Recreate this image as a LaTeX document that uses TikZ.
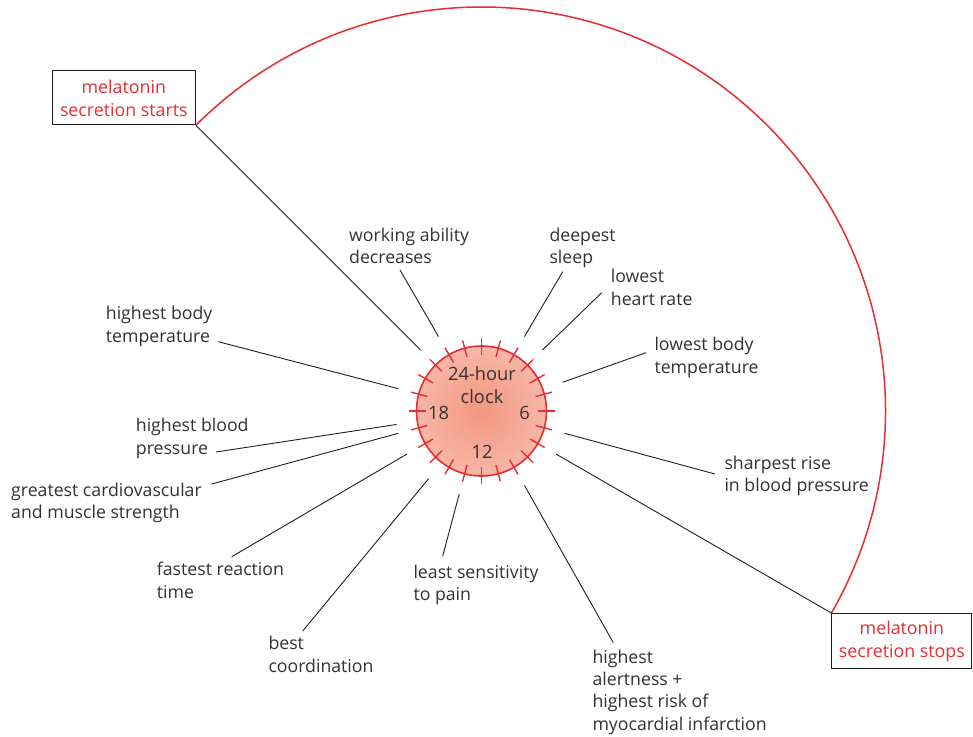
\documentclass[tikz,border=0pt]{standalone}
\usepackage{fontspec}
\setmainfont{Open Sans}
\usetikzlibrary{calc}
\definecolor{cred}{RGB}{230,45,50}
\definecolor{tgray}{RGB}{50,50,50}
\definecolor{lgray}{RGB}{30,30,30}
\definecolor{ci}{RGB}{243,150,128}
\definecolor{co}{RGB}{252,216,205}
\pgfdeclareradialshading{clockshade}{\pgfpoint{0bp}{0bp}}{color(0bp)=(ci); color(50bp)=(co)}
\begin{document}
\begin{tikzpicture}[x=1pt,y=-1pt,
  lab/.style={align=left, inner sep=0pt, anchor=north west, text=tgray, font=\fontsize{17.7}{22.4}\selectfont},
  conn/.style={draw=lgray, line width=0.9pt},
  mbox/.style={draw=lgray, line width=1pt, text=cred, align=center, inner sep=0pt, font=\fontsize{17.8}{23}\selectfont},
  tickline/.style={draw=cred, line width=1.4pt},
  clocktext/.style={text=tgray, inner sep=0pt, font=\fontsize{18.3}{23}\selectfont},
  ]
\useasboundingbox (0,0) rectangle (973,736);
\coordinate (c) at (481.5,411);
% clock
\node[circle, draw=cred, line width=1.6pt, minimum size=130pt, inner sep=0pt, shade, shading=clockshade] (clock) at (c) {};
\foreach \a in {0,15,...,345}
  \draw[tickline] ([shift={(\a:56pt)}]c) -- ([shift={(\a:73pt)}]c);
\node[clocktext, align=center, anchor=north] (title) at (482,366) {24-hour\\clock};
\node[clocktext, anchor=base] (h18) at (438.5,419) {18};
\node[clocktext, anchor=base] (h6) at (524.5,419) {6};
\node[clocktext, anchor=base] (h12) at (482,458) {12};
% melatonin boxes and arc
\node[mbox, anchor=south east, minimum width=143pt, minimum height=54pt] (mstart) at ([shift={(135:404pt)}]c) {melatonin\\secretion starts};
\node[mbox, anchor=north west, minimum width=140pt, minimum height=55pt] (mstop) at ([shift={(-30:404pt)}]c) {melatonin\\secretion stops};
\draw[cred, line width=1.5pt] (mstart.south east) arc[start angle=135, end angle=-30, radius=404pt];
\draw[conn] (mstart.south east) -- ([shift={(135:86pt)}]c);
\draw[conn] (mstop.north west) -- ([shift={(-30:86pt)}]c);
% labels
\node[lab] (wad) at (349,227.5) {working ability\\decreases};
\coordinate (wad-e) at (400,270);
\draw[conn] (wad-e) -- ([shift={(120:86pt)}]c);
\node[lab] (deep) at (549.3,227.5) {deepest\\sleep};
\coordinate (deep-e) at (562.7,271.7);
\draw[conn] (deep-e) -- ([shift={(60:86pt)}]c);
\node[lab] (heart) at (610.7,269) {lowest\\heart rate};
\coordinate (heart-e) at (601.7,292.7);
\draw[conn] (heart-e) -- ([shift={(45:86pt)}]c);
\node[lab] (lbt) at (654.3,337) {lowest body\\temperature};
\coordinate (lbt-e) at (646,352.7);
\draw[conn] (lbt-e) -- ([shift={(19.5:86pt)}]c);
\node[lab] (sharp) at (724.3,455.5) {sharpest rise\\in blood pressure};
\coordinate (sharp-e) at (715,474);
\draw[conn] (sharp-e) -- ([shift={(-15:86pt)}]c);
\node[lab] (alert) at (592.3,649.5) {highest\\alertness +\\highest risk of\\myocardial infarction};
\coordinate (alert-e) at (613.3,642.7);
\draw[conn] (alert-e) -- ([shift={(-60:86pt)}]c);
\node[lab] (least) at (413.3,564.5) {least sensitivity\\to pain};
\coordinate (least-e) at (442.7,556);
\draw[conn] (least-e) -- ([shift={(-105:86pt)}]c);
\node[lab] (best) at (268.3,636.2) {best\\coordination};
\coordinate (best-e) at (302.7,631);
\draw[conn] (best-e) -- ([shift={(-128:86pt)}]c);
\node[lab] (fast) at (156.7,562.2) {fastest reaction\\time};
\coordinate (fast-e) at (231.7,556.7);
\draw[conn] (fast-e) -- ([shift={(-150:86pt)}]c);
\node[lab] (great) at (11,482.5) {greatest cardiovascular\\and muscle strength};
\coordinate (great-e) at (211.7,484);
\draw[conn] (great-e) -- ([shift={(-165:86pt)}]c);
\node[lab] (hbp) at (135.7,418) {highest blood\\pressure};
\coordinate (hbp-e) at (216,452);
\draw[conn] (hbp-e) -- ([shift={(-171:86pt)}]c);
\node[lab] (hbt) at (105.7,306.2) {highest body\\temperature};
\coordinate (hbt-e) at (218.3,341.7);
\draw[conn] (hbt-e) -- ([shift={(165:86pt)}]c);
\end{tikzpicture}
\end{document}
